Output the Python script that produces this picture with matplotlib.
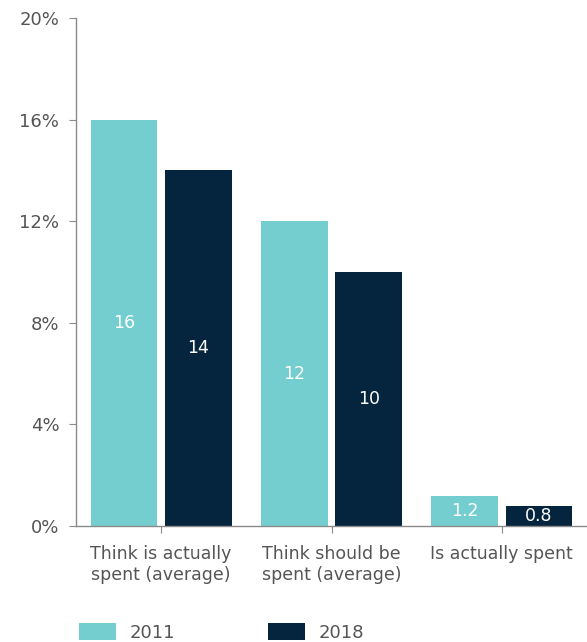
import matplotlib
matplotlib.use("Agg")
import matplotlib.pyplot as plt
from matplotlib.patches import Patch
import numpy as np

categories = ["Think is actually\nspent (average)", "Think should be\nspent (average)", "Is actually spent"]
series_names = ["2011", "2018"]
values_2011 = [16, 12, 1.2]
values_2018 = [14, 10, 0.8]
value_labels_2011 = ["16", "12", "1.2"]
value_labels_2018 = ["14", "10", "0.8"]
yticks = [0, 4, 8, 12, 16, 20]
ytick_labels = ["0%", "4%", "8%", "12%", "16%", "20%"]

teal = "#74CDCE"
navy = "#05253F"
text_col = "#555555"
spine_col = "#8a8a8a"

plt.rcParams["font.family"] = ["DejaVu Sans"]

fig = plt.figure(figsize=(5.87, 6.42), dpi=100)
ax = fig.add_axes([0.1295, 0.1807, 0.8705, 0.7913])

x = np.arange(len(categories))
w = 0.39
off = 0.218
b1 = ax.bar(x - off, values_2011, width=w, color=teal)
b2 = ax.bar(x + off, values_2018, width=w, color=navy)

for bars, labels in ((b1, value_labels_2011), (b2, value_labels_2018)):
    for rect, lab in zip(bars, labels):
        ax.text(rect.get_x() + rect.get_width() / 2, rect.get_height() / 2, lab,
                ha="center", va="center", color="white", fontsize=12.5)

ax.set_xlim(-0.5, 2.5)
ax.set_ylim(0, 20)
ax.set_yticks(yticks)
ax.set_yticklabels(ytick_labels)
ax.set_xticks(x)
ax.set_xticklabels(categories)

for s in ("top", "right"):
    ax.spines[s].set_visible(False)
for s in ("left", "bottom"):
    ax.spines[s].set_color(spine_col)
    ax.spines[s].set_linewidth(1.0)

ax.tick_params(axis="y", length=5, color=spine_col, labelcolor=text_col, labelsize=13, pad=7)
ax.tick_params(axis="x", length=5, color=spine_col, labelcolor=text_col, labelsize=12.5, pad=9)

handles = [Patch(facecolor=teal), Patch(facecolor=navy)]
fig.legend(handles, series_names, loc="upper left", bbox_to_anchor=(0.1346, 0.029),
           ncol=2, frameon=False, handlelength=2.05, handleheight=1.0,
           columnspacing=5.1, handletextpad=0.78, fontsize=13, labelcolor=text_col,
           borderaxespad=0, borderpad=0)

fig.savefig("out.png", dpi=100)
